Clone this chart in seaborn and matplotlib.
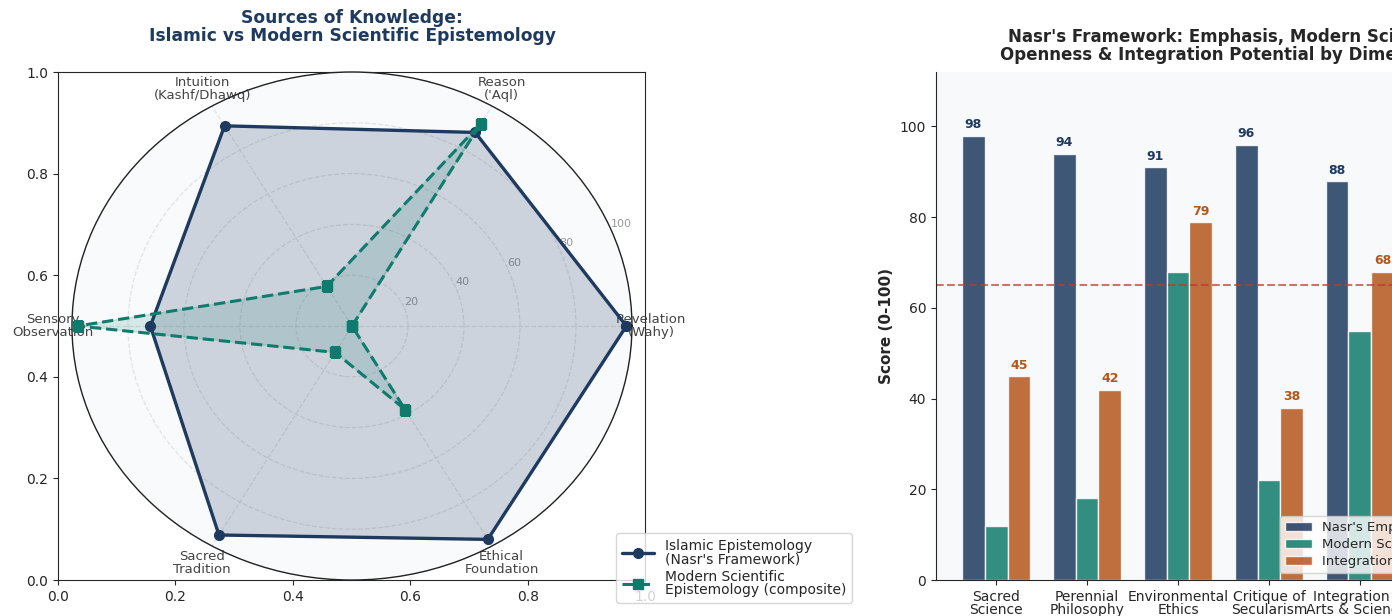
import numpy as np
import pandas as pd
import matplotlib
matplotlib.use("Agg")
import matplotlib.pyplot as plt
import seaborn as sns

# radar data
dimensions = ["Revelation\n(Wahy)", "Reason\n('Aql)", "Intuition\n(Kashf/Dhawq)",
              "Sensory\nObservation", "Sacred\nTradition", "Ethical\nFoundation"]
islamic = [98, 88, 91, 72, 95, 97]
modern_sci = [0, 92, 18, 98, 12, 38]

# bar data
areas = ["Sacred\nScience", "Perennial\nPhilosophy", "Environmental\nEthics",
         "Critique of\nSecularism", "Integration of\nArts & Sciences", "Traditional\nCosmology"]
nasr_emphasis = [98, 94, 91, 96, 88, 93]
modern_openness = [12, 18, 68, 22, 55, 30]
integration = [45, 42, 79, 38, 68, 52]
threshold = 65

NAVY = "#1f3a5f"
TEAL = "#0f7b6c"
ORANGE = "#b5561b"

sns.set_style("ticks")
plt.rcParams['font.family'] = ['DejaVu Sans']

fig, (ax_bg, ax2) = plt.subplots(1, 2, figsize=(13.92, 6.16), dpi=100)
ax_bg.set_position([0.0417, 0.0584, 0.4217, 0.8247])
ax2.set_position([0.6724, 0.0584, 0.413, 0.8247])

# ---- radar (drawn over the leftover cartesian axes) ----
ax1 = fig.add_axes([0.0517, 0.0584, 0.4023, 0.8247], polar=True)
ax1.set_aspect('auto')
ax1.set_facecolor("#f8fafc")
n = len(dimensions)
angles = np.linspace(0, 2 * np.pi, n, endpoint=False).tolist()
ang = angles + angles[:1]
isl = islamic + islamic[:1]
mod = modern_sci + modern_sci[:1]

ax1.plot(ang, isl, 'o-', color=NAVY, lw=2.4, markersize=7,
         label="Islamic Epistemology\n(Nasr's Framework)")
ax1.fill(ang, isl, color=NAVY, alpha=0.2)
ax1.plot(ang, mod, 's--', color=TEAL, lw=2.2, markersize=7,
         label="Modern Scientific\nEpistemology (composite)")
ax1.fill(ang, mod, color=TEAL, alpha=0.15)

ax1.set_xticks(angles)
ax1.set_xticklabels(dimensions, fontsize=9.5, color="#444444")
for t in ax1.get_xticklabels():
    t.set_linespacing(1.05)
ax1.set_ylim(0, 100)
ax1.set_yticks([20, 40, 60, 80, 100])
ax1.set_yticklabels(["20", "40", "60", "80", "100"], fontsize=8, color="#999999")
ax1.grid(True, linestyle='--', color="#e2e2e2", lw=0.9)
ax1.spines['polar'].set_color("#222222")
ax1.spines['polar'].set_linewidth(1)
ax1.set_title("Sources of Knowledge:\nIslamic vs Modern Scientific Epistemology",
              fontsize=12.3, fontweight='bold', color=NAVY, pad=22, linespacing=1.0)
leg1 = ax1.legend(loc='lower right', bbox_to_anchor=(1.405, -0.058), fontsize=10,
                  framealpha=0.8, labelspacing=0.25, handlelength=2.3)
for t in leg1.get_texts():
    t.set_linespacing(0.95)

# ---- grouped bars ----
df = pd.DataFrame({
    "Area": areas * 3,
    "Score": nasr_emphasis + modern_openness + integration,
    "Series": ["Nasr's Emphasis"] * len(areas) + ["Modern Science Openness"] * len(areas)
              + ["Integration Potential"] * len(areas),
})
sns.barplot(data=df, x="Area", y="Score", hue="Series", ax=ax2,
            palette=[NAVY, TEAL, ORANGE], saturation=1, width=0.75,
            alpha=0.85, edgecolor="white", linewidth=1)
ax2.set_facecolor("#f7f9fb")
ax2.axhline(threshold, color="#c0392b", ls="--", lw=1.5, alpha=0.7)
ax2.bar_label(ax2.containers[0], fontsize=9, fontweight='bold', color=NAVY, padding=3)
ax2.bar_label(ax2.containers[2], fontsize=9, fontweight='bold', color=ORANGE, padding=3)
ax2.set_xlim(-0.6625, len(areas) - 1 + 0.6625)
ax2.set_ylim(0, 112)
ax2.set_xlabel("")
ax2.set_ylabel("Score (0-100)", fontsize=11, fontweight='bold')
ax2.tick_params(axis='x', labelsize=10)
ax2.tick_params(axis='y', labelsize=10)
for t in ax2.get_xticklabels():
    t.set_linespacing(0.95)
ax2.set_title("Nasr's Framework: Emphasis, Modern Science\nOpenness & Integration Potential by Dimension",
              fontsize=12, fontweight='bold', pad=9, linespacing=1.0)
leg2 = ax2.legend(loc='lower right', fontsize=9.5, framealpha=0.8, title=None,
                  labelspacing=0.3)
sns.despine(ax=ax2)

fig.savefig("out.png", dpi=100)
